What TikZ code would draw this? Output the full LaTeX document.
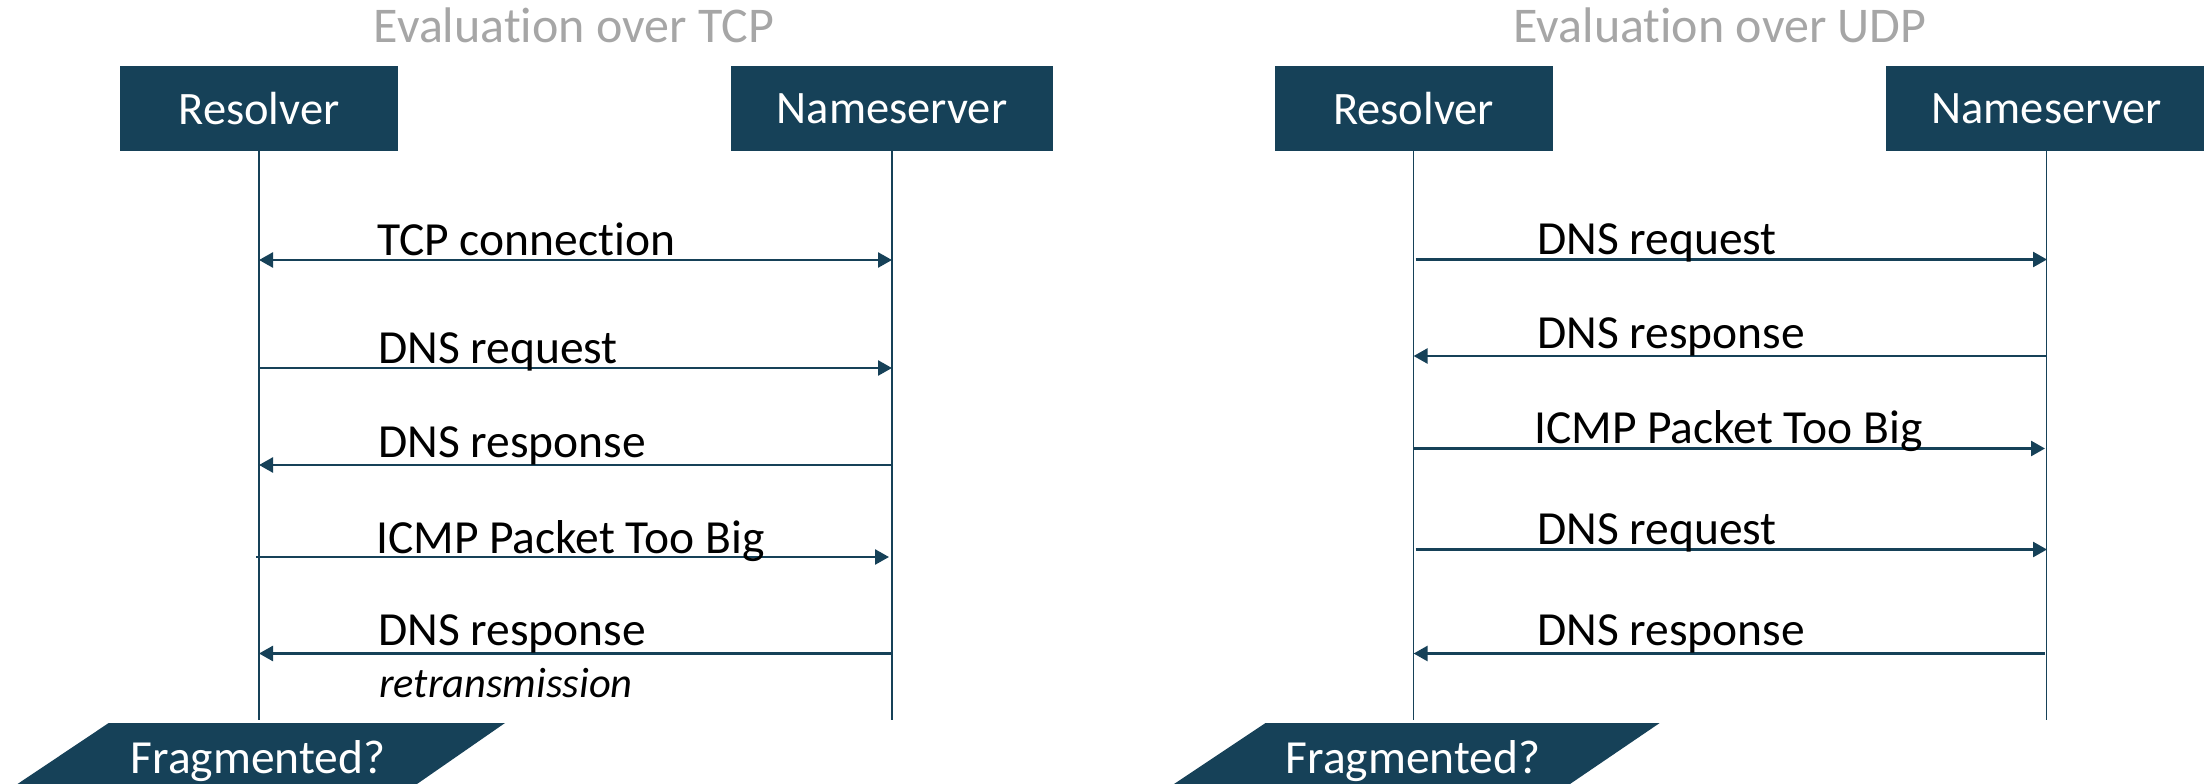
\documentclass[tikz,border=0pt]{standalone}
\usepackage{fontspec}
\setmainfont[Ligatures=NoCommon]{Carlito}
\usetikzlibrary{arrows.meta}
\definecolor{dkblue}{RGB}{22,65,88}
\definecolor{titlegray}{RGB}{166,166,166}
\begin{document}
\begin{tikzpicture}[x=1pt,y=-1pt,
  actor/.style={fill=dkblue, text=white, inner sep=0pt, minimum height=85pt, font=\fontsize{46.5}{50}\selectfont},
  lifeline/.style={draw=dkblue, line width=1.3pt},
  msg/.style={draw=dkblue, line width=2.6pt, -{Triangle[length=14pt,width=15pt]}},
  dmsg/.style={draw=dkblue, line width=2.6pt, {Triangle[length=14pt,width=15pt]}-{Triangle[length=14pt,width=15pt]}},
  lbl/.style={anchor=base west, inner sep=0pt, font=\fontsize{47.5}{50}\selectfont},
  ilbl/.style={anchor=base west, inner sep=0pt, font=\fontsize{42.5}{46}\selectfont\itshape},
  ttl/.style={anchor=base, inner sep=0pt, text=titlegray, font=\fontsize{50}{54}\selectfont},
  fragbox/.style={fill=dkblue},
  fragtxt/.style={anchor=base, inner sep=0pt, text=white, font=\fontsize{47.5}{50}\selectfont}]
\useasboundingbox (0,0) rectangle (2204,784);

% ---------- Left panel: TCP ----------
\node[ttl] (tTCP) at (574,43) {Evaluation over TCP};
\node[actor, minimum width=278pt] (resL) at (259,108.5) {Resolver};
\node[actor, minimum width=322pt] (nsL) at (892,108.5) {Nameserver};
\coordinate (resLend) at (259,720);
\coordinate (nsLend) at (892,720);
\draw[lifeline] (resL.south) -- (resLend);
\draw[lifeline] (nsL.south) -- (nsLend);

\coordinate (rL1) at (259,260);   \coordinate (nL1) at (892,260);
\coordinate (rL2) at (259,368);   \coordinate (nL2) at (892,368);
\coordinate (rL3) at (259,465);   \coordinate (nL3) at (892,465);
\coordinate (rL4) at (256,557);   \coordinate (nL4) at (889,557);
\coordinate (rL5) at (259,653.5); \coordinate (nL5) at (892,653.5);

\draw[dmsg] (rL1) -- (nL1);
\draw[msg] (rL2) -- (nL2);
\draw[msg] (nL3) -- (rL3);
\draw[msg] (rL4) -- (nL4);
\draw[msg] (nL5) -- (rL5);

\node[lbl] (lL1) at (377,255) {TCP connection};
\node[lbl] (lL2) at (378,363) {DNS request};
\node[lbl] (lL3) at (378,457) {DNS response};
\node[lbl] (lL4) at (376,553) {ICMP Packet Too Big};
\node[lbl] (lL5) at (378,645) {DNS response};
\node[ilbl] (lL6) at (379,697) {retransmission};

\fill[fragbox] (108.7,723) -- (505,723) -- (417,784) -- (17.5,784) -- cycle;
\node[fragtxt] (fragL) at (258,773) {Fragmented?};

% ---------- Right panel: UDP ----------
\node[ttl] (tUDP) at (1720,43) {Evaluation over UDP};
\node[actor, minimum width=278pt] (resR) at (1413.6,108.5) {Resolver};
\node[actor, minimum width=322pt] (nsR) at (2046.7,108.5) {Nameserver};
\coordinate (resRend) at (1413.6,720);
\coordinate (nsRend) at (2046.7,720);
\draw[lifeline] (resR.south) -- (resRend);
\draw[lifeline] (nsR.south) -- (nsRend);

\coordinate (rR1) at (1415.5,259.5); \coordinate (nR1) at (2047,259.5);
\coordinate (rR2) at (1413.6,356);   \coordinate (nR2) at (2046.7,356);
\coordinate (rR3) at (1413.6,448.5); \coordinate (nR3) at (2045,448.5);
\coordinate (rR4) at (1415.5,549.5); \coordinate (nR4) at (2047,549.5);
\coordinate (rR5) at (1413.6,653.5); \coordinate (nR5) at (2045,653.5);

\draw[msg] (rR1) -- (nR1);
\draw[msg] (nR2) -- (rR2);
\draw[msg] (rR3) -- (nR3);
\draw[msg] (rR4) -- (nR4);
\draw[msg] (nR5) -- (rR5);

\node[lbl] (lR1) at (1537,254.5) {DNS request};
\node[lbl] (lR2) at (1537,348) {DNS response};
\node[lbl] (lR3) at (1534,443) {ICMP Packet Too Big};
\node[lbl] (lR4) at (1537,544) {DNS request};
\node[lbl] (lR5) at (1537,645) {DNS response};

\fill[fragbox] (1265.5,723) -- (1659.7,723) -- (1570,784) -- (1174,784) -- cycle;
\node[fragtxt] (fragR) at (1413,773) {Fragmented?};
\end{tikzpicture}
\end{document}
